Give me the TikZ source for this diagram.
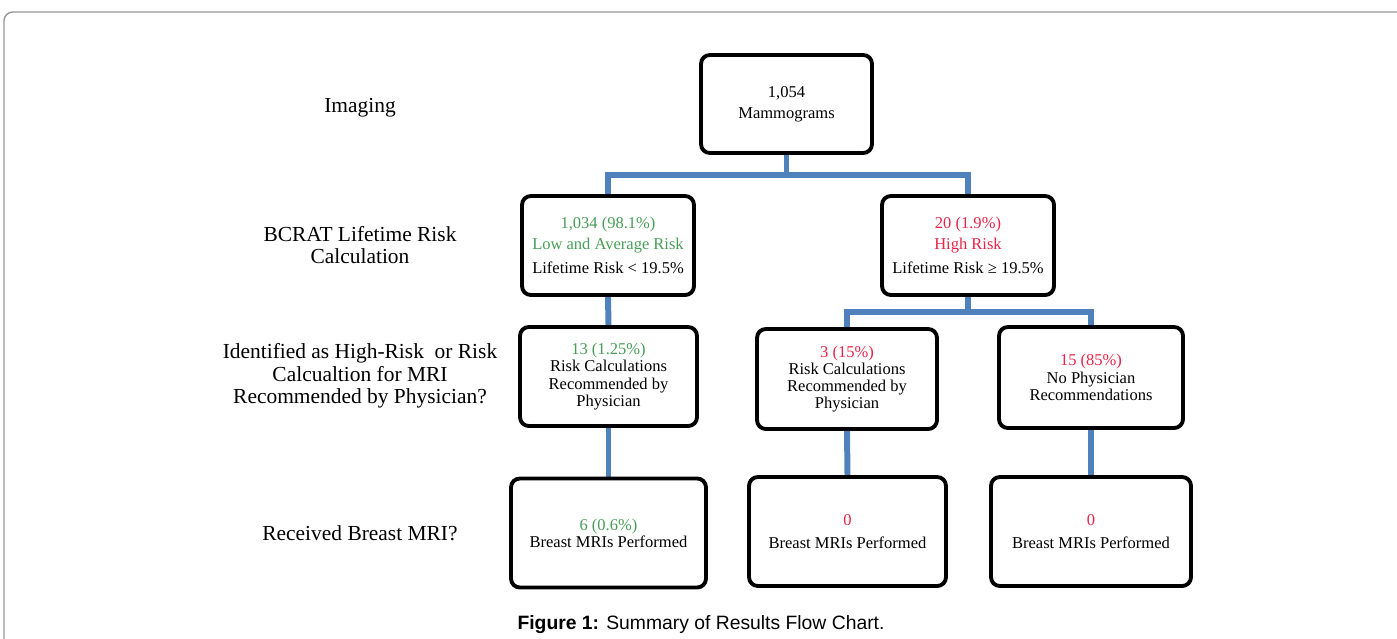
\documentclass[tikz,border=0pt]{standalone}
\usepackage{fontspec}
\setmainfont{Liberation Serif}
\newfontfamily\capfont{Liberation Sans}
\usetikzlibrary{backgrounds}

\definecolor{linkblue}{RGB}{79,129,189}
\definecolor{riskgreen}{RGB}{72,158,88}
\definecolor{riskred}{RGB}{232,36,72}
\definecolor{framegray}{RGB}{150,150,150}

\begin{document}
\begin{tikzpicture}[x=0.02cm,y=-0.02cm,
  box/.style={draw,line width=2.2pt,rounded corners=5pt,fill=white,align=center,
    inner sep=2pt,font=\fontsize{9.4}{9.8}\selectfont},
  stage/.style={align=center,font=\fontsize{12.2}{12.8}\selectfont},
  link/.style={linkblue,line width=3.4pt}]

\useasboundingbox (0,0) rectangle (1397,639);
\draw[framegray,line width=0.8pt,rounded corners=5pt] (4,639) |- (1397,12);

% stages on the left
\node[stage] (imaging) at (360,108) {Imaging};
\node[stage] (bcrat) at (360,245) {BCRAT Lifetime Risk\\Calculation};
\node[stage] (ident) at (360,376) {Identified as High-Risk~ or Risk\\Calcualtion for MRI\\Recommended by Physician?};
\node[stage] (received) at (360,533) {Received Breast MRI?};

\node[box,minimum width=3.42cm,minimum height=1.96cm] (mammo) at (786.5,104)
  {1,054\\[2pt]Mammograms};
\node[box,minimum width=3.44cm,minimum height=1.98cm] (lowrisk) at (608,245.5)
  {\color{riskgreen}1,034 (98.1\%)\\[2pt]\color{riskgreen}Low and Average Risk\\[4pt]Lifetime Risk < 19.5\%};
\node[box,minimum width=3.44cm,minimum height=1.98cm] (highrisk) at (968,245.5)
  {\color{riskred}20 (1.9\%)\\[2pt]\color{riskred}High Risk\\[4pt]Lifetime Risk ≥ 19.5\%};

\node[box,minimum width=3.54cm,minimum height=1.98cm] (physlow) at (608.5,376.5)
  {\color{riskgreen}13 (1.25\%)\\Risk Calculations\\Recommended by\\Physician};
\node[box,minimum width=3.60cm,minimum height=2.00cm] (physhigh) at (847,379)
  {\color{riskred}3 (15\%)\\Risk Calculations\\Recommended by\\Physician};
\node[box,minimum width=3.68cm,minimum height=2.02cm] (nophys) at (1091,377.5)
  {\color{riskred}15 (85\%)\\No Physician\\Recommendations};

\node[box,minimum width=3.90cm,minimum height=2.18cm] (mrilow) at (608.5,533)
  {\color{riskgreen}6 (0.6\%)\\Breast MRIs Performed};
\node[box,minimum width=3.94cm,minimum height=2.18cm] (mrihigh) at (847.5,531.5)
  {\color{riskred}0\\[3pt]Breast MRIs Performed};
\node[box,minimum width=4.00cm,minimum height=2.18cm] (mrinone) at (1091,531.5)
  {\color{riskred}0\\[3pt]Breast MRIs Performed};

\node[font=\capfont\fontsize{11}{12}\selectfont] (caption) at (701,625)
  {\textbf{Figure 1:} Summary of Results Flow Chart.};

\coordinate (split1) at (786.5,175);
\coordinate (split2) at (968,312);

\begin{scope}[on background layer]
  \draw[link] (mammo.south) -- (split1) -| (lowrisk.north);
  \draw[link] (split1) -| (highrisk.north);
  \draw[link] (highrisk.south) -- (split2) -| (physhigh.north);
  \draw[link] (split2) -| (nophys.north);
  \draw[link] (lowrisk.south) -- (physlow.north);
  \draw[link] (physlow.south) -- (mrilow.north);
  \draw[link] (physhigh.south) -- (mrihigh.north);
  \draw[link] (nophys.south) -- (mrinone.north);
\end{scope}

\end{tikzpicture}
\end{document}
